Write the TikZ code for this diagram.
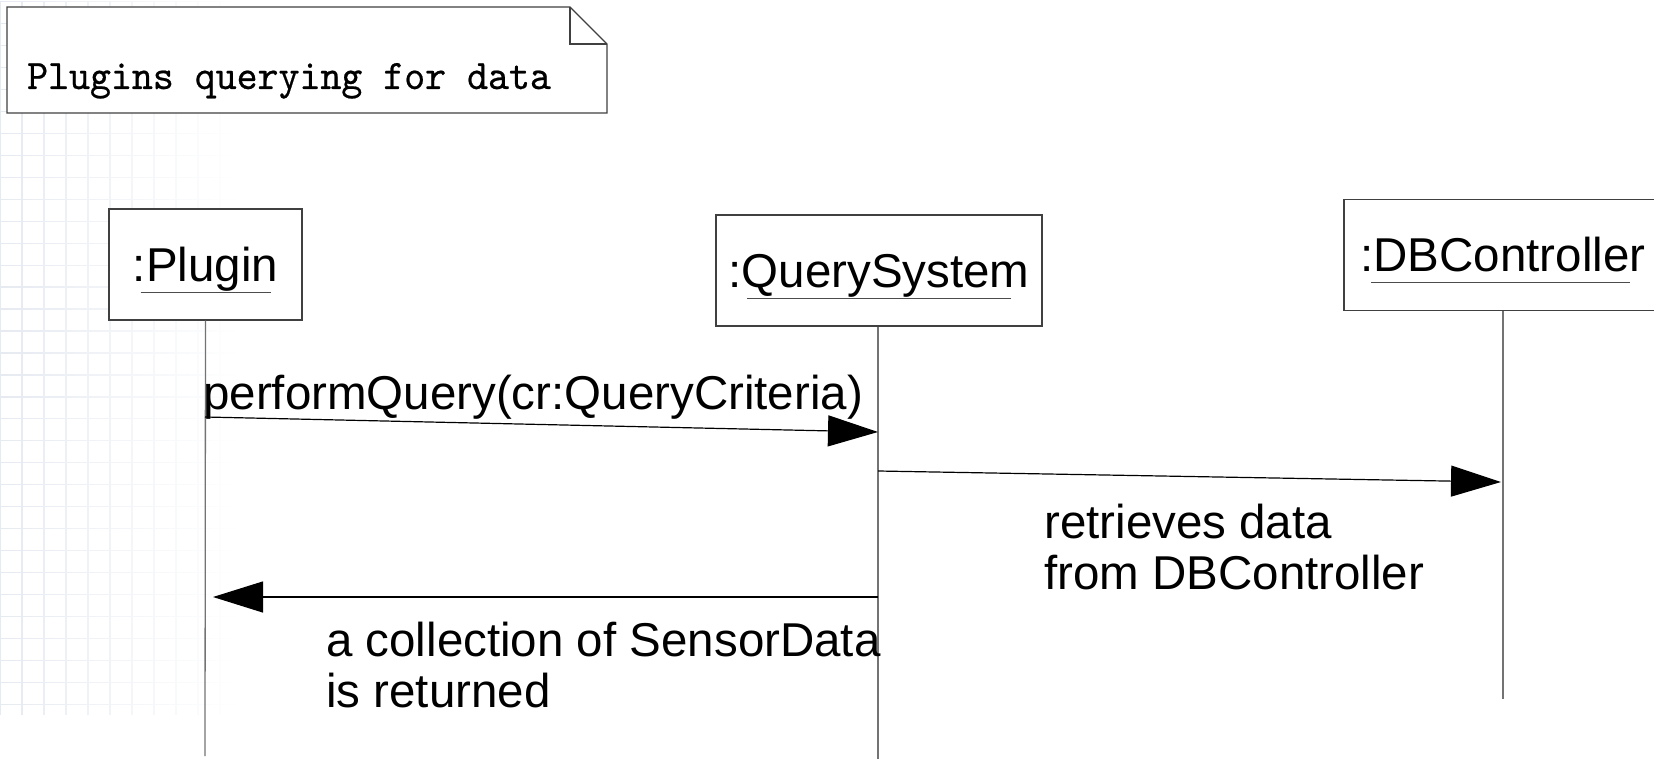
\documentclass[tikz,border=0pt]{standalone}
\usepackage{fontspec}
\setmainfont{Liberation Sans}
\newfontfamily\notefont[FakeBold=0.5,FakeStretch=0.95]{lmmono10-regular.otf}
\usetikzlibrary{arrows.meta,calc,fadings}

\definecolor{paperline}{RGB}{230,234,241}

\tikzset{
  objbox/.style={draw=black!75, line width=1.3pt, fill=white, inner sep=0pt,
    minimum height=111pt, text height=34pt, text depth=0pt,
    font=\fontsize{47.5}{51}\selectfont},
  uline/.style={draw=black!70, line width=1pt},
  lifeline/.style={draw=black!55, line width=1.3pt},
  msg/.style={draw=black, line width=1.2pt, -{Triangle[length=50pt,width=31pt]}},
  msglabel/.style={inner sep=0pt, align=left, font=\fontsize{47.5}{51}\selectfont},
  notebox/.style={draw=black!75, line width=1.2pt, fill=white},
}

\begin{document}
\begin{tikzpicture}[x=1pt,y=-1pt]
  \useasboundingbox (0,0) rectangle (1654,759);
  \clip (0,0) rectangle (1654,759);

  % faint squared paper in the background on the left
  \draw[paperline, line width=1.2pt, step=22pt, path fading=east] (0,0) grid (240,715);

  % note
  \draw[notebox] (7,7) -- (570,7) -- (607,44) -- (607,113) -- (7,113) -- cycle;
  \draw[notebox, fill=none] (570,7) -- (570,44) -- (607,44);
  \node[anchor=base west, inner sep=0pt, font=\notefont\fontsize{42}{44}\selectfont]
    (note) at (27,89) {Plugins querying for data};

  % objects
  \node[objbox, minimum width=193pt] (plug) at (205.5,264.5) {:Plugin};
  \node[objbox, minimum width=326pt] (qs) at (879,270.5) {:QuerySystem};
  \node[objbox, minimum width=318pt] (db) at (1503,255) {:DBController};

  \draw[uline] ($(plug.center)+(-65,28)$) -- ($(plug.center)+(65,28)$);
  \draw[uline] ($(qs.center)+(-132,28)$) -- ($(qs.center)+(132,28)$);
  \draw[uline] ($(db.center)+(-132,28)$) -- ($(db.center)+(127,28)$);

  % lifelines
  \coordinate (plugEnd) at (205,756);
  \coordinate (qsEnd) at (878,759);
  \coordinate (dbEnd) at (1503,699);
  \draw[lifeline] (plug.south) -- (plugEnd);
  \draw[lifeline] (qs.south -| qsEnd) -- (qsEnd);
  \draw[lifeline] (db.south) -- (dbEnd);

  % messages
  \coordinate (m1a) at (205,417);
  \coordinate (m1b) at (878,432);
  \coordinate (m2a) at (878,471);
  \coordinate (m2b) at (1501,482);
  \coordinate (m3a) at (878,597);
  \coordinate (m3b) at (213,597);
  \draw[msg] (m1a) -- (m1b);
  \draw[msg] (m2a) -- (m2b);
  \draw[msg] (m3a) -- (m3b);

  \node[msglabel, anchor=base west] (l1) at (203,409) {performQuery(cr:QueryCriteria)};
  \node[msglabel, anchor=north west] (l2) at (1044,504) {retrieves data\\from DBController};
  \node[msglabel, anchor=north west] (l3) at (326,622) {a collection of SensorData\\is returned};
\end{tikzpicture}
\end{document}
